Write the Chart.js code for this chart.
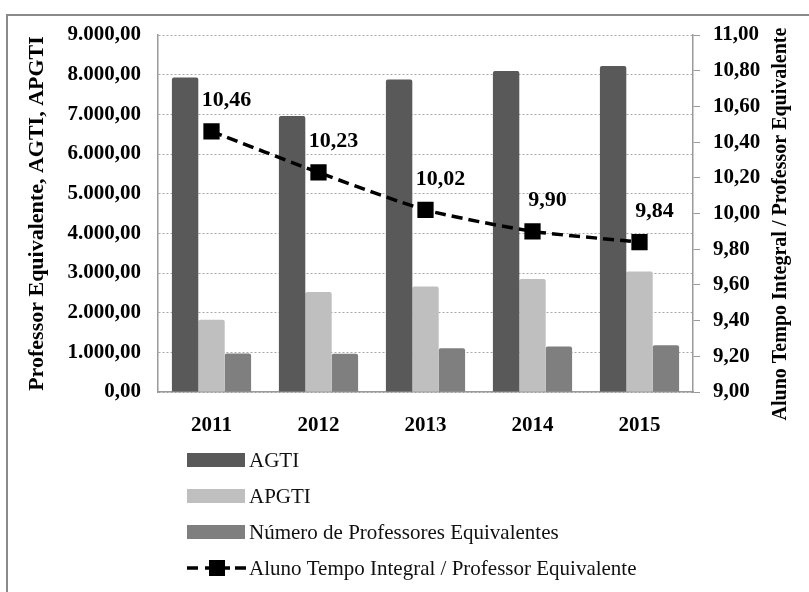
<!DOCTYPE html>
<html lang="pt">
<head>
<meta charset="UTF-8">
<title>AGTI, APGTI e Professor Equivalente</title>
<style>
  body { margin: 0; background: #fff; }
  #frame { position: absolute; left: 6px; top: 14px; width: 830px; height: 620px; border: 2px solid #8a8a8a; }
  #chart { position: absolute; left: 0; top: 0; }
</style>
</head>
<body>
<div id="frame"></div>
<canvas id="chart" width="809" height="592"></canvas>
<script src="https://cdn.jsdelivr.net/npm/chart.js"></script>
<script>
const anos = ['2011', '2012', '2013', '2014', '2015'];
const agti = [7930, 6960, 7880, 8090, 8220];
const apgti = [1820, 2520, 2660, 2850, 3040];
const profEquiv = [970, 965, 1100, 1150, 1180];
const alunoPorProf = [10.46, 10.23, 10.02, 9.90, 9.84];

const serif = "'Liberation Serif', 'Times New Roman', serif";

// 9000 -> "9.000,00"
function fmt(v) {
  const parts = v.toFixed(2).split('.');
  const inteiro = parts[0].replace(/\B(?=(\d{3})+(?!\d))/g, '.');
  return inteiro + ',' + parts[1];
}

// rótulos dos pontos da linha
const rotulos = {
  id: 'rotulos',
  afterDatasetsDraw(chart) {
    const ctx = chart.ctx;
    const meta = chart.getDatasetMeta(3);
    ctx.save();
    ctx.font = 'bold 22px ' + serif;
    ctx.fillStyle = '#000';
    ctx.textAlign = 'center';
    ctx.textBaseline = 'middle';
    meta.data.forEach((pt, i) => {
      ctx.fillText(fmt(alunoPorProf[i]), pt.x + 15, pt.y - 31);
    });
    ctx.restore();
  }
};

// legenda vertical e título do eixo direito
const extras = {
  id: 'extras',
  afterDraw(chart) {
    const ctx = chart.ctx;
    ctx.save();
    ctx.font = '21px ' + serif;
    ctx.textBaseline = 'middle';
    chart.data.datasets.forEach((ds, i) => {
      const y = 460 + i * 36;
      if (ds.type === 'line') {
        ctx.strokeStyle = '#000';
        ctx.lineWidth = 3.5;
        ctx.setLineDash([11, 7, 25, 5]);
        ctx.beginPath();
        ctx.moveTo(187, y);
        ctx.lineTo(246, y);
        ctx.stroke();
        ctx.setLineDash([]);
        ctx.fillStyle = '#000';
        ctx.fillRect(209, y - 8, 16, 16);
      } else {
        ctx.fillStyle = ds.backgroundColor;
        ctx.fillRect(187, y - 7, 58, 14);
      }
      ctx.fillStyle = '#111';
      ctx.textAlign = 'left';
      ctx.fillText(ds.label, 249, y + 1);
    });

    ctx.translate(781, 224);
    ctx.rotate(-Math.PI / 2);
    ctx.font = 'bold 20px ' + serif;
    ctx.textAlign = 'center';
    ctx.fillStyle = '#000';
    ctx.fillText('Aluno Tempo Integral / Professor Equivalente', 0, 0);
    ctx.restore();
  }
};

const ctx = document.getElementById('chart').getContext('2d');
new Chart(ctx, {
  data: {
    labels: anos,
    datasets: [
      { type: 'bar', label: 'AGTI', data: agti, backgroundColor: '#595959', yAxisID: 'y', order: 1,
        barPercentage: 1, categoryPercentage: 0.74, borderRadius: 2 },
      { type: 'bar', label: 'APGTI', data: apgti, backgroundColor: '#bfbfbf', yAxisID: 'y', order: 1,
        barPercentage: 1, categoryPercentage: 0.74, borderRadius: 2 },
      { type: 'bar', label: 'Número de Professores Equivalentes', data: profEquiv, backgroundColor: '#7f7f7f',
        yAxisID: 'y', order: 1, barPercentage: 1, categoryPercentage: 0.74, borderRadius: 2 },
      { type: 'line', label: 'Aluno Tempo Integral / Professor Equivalente', data: alunoPorProf,
        yAxisID: 'y1', order: 0, borderColor: '#000', borderWidth: 3.5, borderDash: [11, 6],
        pointStyle: 'rect', pointRadius: 11.5, pointBackgroundColor: '#000', pointBorderWidth: 0,
        tension: 0.2, fill: false }
    ]
  },
  options: {
    responsive: false,
    animation: false,
    layout: { padding: { left: 0, right: 0, top: 35, bottom: 150 } },
    plugins: { legend: { display: false }, tooltip: { enabled: false } },
    scales: {
      x: {
        offset: true,
        grid: { display: false },
        border: { display: true, color: '#9a9a9a', width: 1.5 },
        ticks: { color: '#000', padding: 13, font: { family: serif, size: 21, weight: 'bold' } },
        afterFit(s) { s.height = 50; }
      },
      y: {
        position: 'left',
        min: 0, max: 9000,
        ticks: { stepSize: 1000, padding: 17, color: '#000', callback: v => fmt(v),
          font: { family: serif, size: 21, weight: 'bold' } },
        grid: { color: '#a8a8a8', lineWidth: 1, drawTicks: false },
        border: { display: true, color: '#9a9a9a', width: 1.5, dash: [2, 2] },
        title: { display: true, text: 'Professor Equivalente, AGTI, APGTI', color: '#000',
          padding: { top: 24, bottom: 0 }, font: { family: serif, size: 22, weight: 'bold' } },
        afterFit(s) { s.width = 158; }
      },
      y1: {
        position: 'right',
        min: 9, max: 11,
        ticks: { stepSize: 0.2, padding: 13, color: '#000', callback: v => fmt(v),
          font: { family: serif, size: 21, weight: 'bold' } },
        grid: { drawOnChartArea: false, drawTicks: true, tickLength: 7, tickColor: '#9a9a9a' },
        border: { display: true, color: '#9a9a9a', width: 1.5 },
        afterFit(s) { s.width = 116; }
      }
    }
  },
  plugins: [rotulos, extras]
});
</script>
</body>
</html>
